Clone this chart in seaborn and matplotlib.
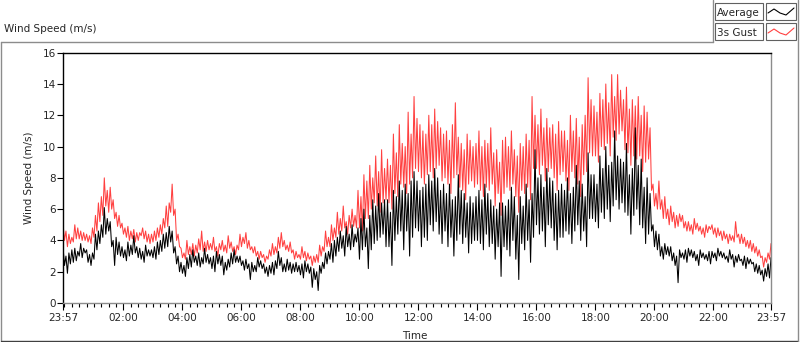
import numpy as np
import pandas as pd
import matplotlib
matplotlib.use("Agg")
import matplotlib.pyplot as plt
from matplotlib.lines import Line2D
from matplotlib.patches import Rectangle
import seaborn as sns

# ── Data (3-minute samples, 23:57 -> 23:57, one row per hour)
AVERAGE = [
    3.6, 2.4, 3.0, 1.9, 3.2, 2.5, 3.4, 2.6, 3.5, 2.7, 3.3, 3.0, 3.8, 2.9, 3.5, 3.2, 3.4, 2.6, 3.1, 2.4,
    3.2, 2.8, 4.4, 3.4, 4.6, 3.8, 5.0, 4.2, 6.1, 4.4, 5.4, 4.6, 5.2, 3.6, 4.0, 2.4, 4.2, 3.1, 3.9, 3.0,
    3.6, 2.9, 3.4, 2.7, 3.9, 3.0, 3.7, 3.1, 4.3, 3.2, 3.6, 2.9, 3.5, 2.8, 3.3, 2.6, 3.7, 3.0, 3.4, 3.0,
    3.4, 2.9, 3.6, 2.8, 3.9, 3.1, 4.0, 3.3, 4.4, 3.5, 4.5, 3.6, 4.9, 3.9, 4.6, 3.2, 3.6, 2.5, 3.0, 2.0,
    2.6, 1.9, 2.4, 1.7, 2.9, 2.2, 3.1, 2.3, 3.4, 2.6, 3.0, 2.4, 3.2, 2.3, 2.9, 2.5, 3.5, 2.6, 3.1, 2.5,
    2.9, 2.2, 3.0, 2.0, 3.3, 2.5, 3.1, 2.4, 3.0, 1.8, 2.6, 2.1, 2.8, 2.3, 3.2, 2.5, 3.4, 2.6, 3.0, 2.6,
    3.0, 2.4, 2.7, 2.1, 2.8, 2.2, 2.5, 1.5, 2.6, 2.0, 2.4, 2.0, 2.9, 2.3, 2.7, 2.2, 2.5, 1.9, 2.3, 1.7,
    2.4, 1.9, 2.6, 1.8, 2.7, 2.2, 3.3, 2.4, 2.9, 2.0, 2.5, 2.0, 2.8, 2.1, 2.6, 1.9, 2.5, 2.0, 2.6, 2.0,
    2.4, 1.8, 2.5, 1.6, 2.7, 2.0, 2.5, 1.9, 2.3, 1.0, 2.2, 1.5, 2.0, 0.8, 2.4, 1.9, 2.6, 2.2, 3.2, 2.5,
    3.3, 2.8, 3.8, 2.6, 4.0, 3.0, 4.2, 3.3, 4.6, 3.5, 4.3, 3.0, 4.9, 3.6, 4.4, 3.4, 5.0, 3.6, 4.4, 3.9,
    4.8, 2.8, 5.4, 3.4, 6.0, 3.6, 4.8, 2.2, 5.6, 3.4, 6.6, 3.8, 6.2, 4.0, 7.0, 4.2, 6.4, 4.4, 6.6, 3.6,
    6.6, 3.6, 5.8, 2.4, 7.2, 4.0, 6.8, 4.4, 7.8, 4.6, 7.2, 3.4, 7.6, 4.6, 7.0, 3.0, 7.8, 4.2, 8.4, 4.8,
    7.8, 4.6, 7.2, 3.6, 7.4, 4.2, 7.6, 4.0, 8.2, 5.0, 7.8, 4.6, 8.6, 5.2, 8.0, 4.4, 7.2, 3.8, 7.6, 4.6,
    7.0, 3.6, 7.6, 4.2, 6.6, 3.0, 6.8, 4.0, 8.2, 4.4, 7.2, 3.8, 7.0, 4.2, 6.4, 3.2, 6.8, 3.8, 6.4, 4.0,
    6.8, 4.0, 7.2, 3.8, 6.6, 3.4, 7.6, 4.4, 7.0, 3.6, 6.6, 3.8, 6.2, 2.8, 6.0, 3.6, 6.4, 1.7, 6.4, 3.6,
    6.2, 3.4, 6.6, 3.0, 7.4, 4.0, 6.8, 2.8, 5.6, 1.5, 6.8, 3.8, 6.2, 3.4, 7.6, 4.0, 6.6, 2.6, 7.0, 4.2,
    9.8, 5.0, 8.0, 4.4, 8.2, 4.6, 7.4, 3.6, 8.6, 5.0, 8.0, 4.8, 7.8, 4.0, 7.0, 3.4, 7.2, 4.2, 7.6, 4.2,
    7.2, 4.6, 8.0, 4.4, 7.0, 3.8, 7.4, 4.6, 8.8, 5.0, 7.8, 4.0, 7.6, 4.6, 6.8, 3.6, 9.6, 5.4, 8.2, 5.4,
    8.2, 5.2, 7.6, 4.8, 9.4, 5.8, 8.6, 5.4, 10.0, 6.0, 8.8, 5.2, 9.0, 6.2, 11.0, 6.6, 9.4, 6.0, 9.2, 6.4,
    9.0, 5.8, 10.2, 5.6, 8.2, 4.4, 8.6, 5.6, 11.2, 6.0, 8.8, 5.0, 9.2, 4.8, 7.4, 3.8, 8.0, 4.4, 7.0, 4.6,
    5.0, 3.6, 4.6, 3.4, 4.4, 3.0, 3.6, 2.8, 3.8, 3.1, 3.6, 3.0, 3.6, 2.7, 3.2, 2.4, 3.0, 1.3, 3.4, 2.9,
    3.2, 2.8, 3.4, 2.6, 3.5, 3.0, 3.4, 2.9, 3.3, 2.7, 3.1, 2.4, 3.4, 2.9, 3.2, 2.8, 3.1, 2.7, 3.3, 2.5,
    3.3, 2.9, 3.2, 2.7, 3.5, 3.0, 3.3, 2.9, 3.2, 2.8, 3.0, 2.6, 3.4, 2.8, 3.1, 2.3, 3.0, 2.6, 3.1, 2.7,
    2.8, 2.4, 3.0, 2.2, 2.9, 2.5, 2.8, 2.5, 2.6, 2.0, 2.5, 1.9, 2.4, 1.8, 2.1, 1.4, 2.2, 1.7, 2.5, 1.6,
    2.9,
]
GUST = [
    5.1, 4.0, 4.6, 3.6, 4.4, 3.8, 4.2, 3.9, 5.0, 4.1, 4.8, 4.1, 4.6, 4.0, 4.5, 4.0, 4.4, 3.9, 4.3, 3.8,
    4.8, 4.2, 5.6, 4.6, 6.4, 5.2, 6.8, 5.6, 8.0, 6.2, 7.2, 5.8, 7.4, 6.0, 6.6, 5.4, 5.8, 4.9, 5.6, 4.8,
    5.1, 4.4, 4.8, 4.2, 4.9, 4.0, 4.6, 4.1, 4.7, 3.9, 4.5, 4.0, 4.5, 4.3, 4.8, 4.1, 4.6, 3.9, 4.4, 3.8,
    4.4, 3.9, 4.6, 4.0, 4.8, 4.2, 5.0, 4.4, 5.4, 4.8, 6.2, 4.9, 6.4, 5.8, 7.6, 5.6, 6.0, 4.0, 4.4, 3.6,
    3.5, 2.9, 3.2, 2.8, 4.0, 3.1, 3.6, 3.1, 3.8, 3.0, 3.7, 3.2, 4.1, 3.4, 4.6, 3.3, 3.9, 3.3, 4.0, 3.4,
    3.8, 3.4, 4.2, 3.3, 3.6, 3.0, 3.8, 3.4, 4.0, 3.3, 3.7, 3.2, 4.3, 3.5, 3.9, 3.3, 3.6, 3.1, 3.7, 3.4,
    4.4, 3.6, 4.2, 3.8, 4.5, 3.5, 4.0, 3.4, 3.6, 3.2, 3.6, 3.0, 3.3, 2.8, 3.3, 2.9, 3.1, 2.6, 3.0, 2.8,
    3.4, 3.0, 3.8, 3.1, 3.6, 3.2, 4.2, 3.5, 4.5, 3.6, 4.0, 3.4, 3.7, 3.3, 3.9, 3.2, 3.4, 2.8, 3.3, 2.9,
    3.1, 2.8, 3.6, 2.9, 3.3, 2.7, 3.2, 2.8, 3.0, 2.4, 3.0, 2.6, 3.1, 2.6, 3.7, 3.0, 3.6, 3.3, 4.6, 3.6,
    4.2, 3.6, 5.0, 4.0, 4.8, 4.2, 5.8, 4.4, 5.4, 4.6, 6.2, 4.8, 5.2, 4.4, 5.6, 4.8, 6.0, 4.9, 5.6, 4.8,
    7.2, 4.8, 6.8, 4.6, 8.2, 5.4, 7.8, 5.4, 8.8, 6.0, 8.0, 6.4, 9.4, 6.2, 8.4, 5.8, 9.8, 6.4, 8.6, 6.6,
    9.2, 6.4, 8.8, 6.0, 10.8, 7.0, 9.6, 6.8, 11.4, 7.6, 10.2, 7.4, 10.0, 7.0, 12.2, 7.6, 10.8, 8.0, 13.2, 8.6,
    11.8, 8.4, 11.4, 8.0, 11.0, 7.6, 10.8, 8.2, 12.0, 8.4, 11.4, 8.0, 12.4, 8.6, 11.6, 8.8, 11.2, 7.8, 10.8, 8.0,
    11.0, 7.6, 10.4, 7.0, 11.4, 8.0, 12.8, 8.2, 10.6, 7.4, 10.2, 7.2, 9.8, 6.6, 10.8, 7.6, 10.4, 7.8, 10.0, 7.4,
    10.2, 7.6, 11.0, 7.2, 10.0, 6.8, 10.4, 7.4, 10.2, 7.2, 11.2, 7.6, 9.6, 6.2, 9.8, 7.0, 9.0, 5.6, 10.4, 7.0,
    10.6, 7.4, 10.0, 7.2, 11.0, 7.6, 9.8, 6.8, 9.4, 5.8, 10.2, 7.2, 10.0, 7.0, 10.8, 7.4, 10.4, 6.6, 13.2, 8.6,
    12.0, 8.6, 11.4, 8.2, 12.4, 8.8, 11.2, 7.8, 11.8, 8.4, 11.2, 8.6, 11.4, 8.0, 10.8, 7.2, 11.6, 8.2, 11.0, 8.4,
    11.0, 7.8, 10.4, 7.2, 12.0, 8.4, 11.0, 8.0, 11.8, 7.6, 10.6, 6.8, 11.4, 8.2, 12.0, 8.4, 14.4, 9.6, 13.0, 9.4,
    12.6, 9.4, 12.2, 9.0, 13.4, 10.0, 13.0, 9.8, 14.0, 10.2, 12.8, 9.4, 14.6, 10.6, 13.2, 10.4, 14.6, 10.8, 13.6, 11.0,
    13.0, 9.8, 13.8, 9.6, 12.4, 8.8, 13.0, 9.4, 12.6, 9.2, 13.2, 9.4, 12.0, 8.4, 12.6, 9.0, 12.2, 9.2, 11.2, 7.2,
    7.6, 6.2, 7.0, 6.0, 7.8, 6.0, 6.6, 5.4, 6.8, 5.4, 6.0, 5.0, 6.2, 5.2, 5.8, 4.8, 5.6, 4.9, 5.7, 5.2,
    5.6, 4.8, 5.2, 4.6, 5.2, 4.6, 5.0, 4.4, 5.4, 4.7, 5.1, 4.6, 4.9, 4.4, 4.8, 4.2, 5.0, 4.5, 4.9, 4.7,
    5.0, 4.4, 4.8, 4.2, 4.8, 4.3, 4.6, 4.0, 4.6, 4.1, 4.4, 3.8, 4.4, 4.0, 4.3, 3.9, 5.2, 4.2, 4.4, 3.8,
    4.4, 3.8, 4.2, 3.6, 4.0, 3.5, 4.0, 3.3, 3.8, 3.2, 3.6, 3.0, 3.4, 2.9, 3.0, 2.3, 2.9, 2.6, 3.2, 2.8,
    3.8,
]
SERIES = ["Average", "3s Gust"]
COLORS = {"Average": "#000000", "3s Gust": "#ff4040"}
START = "2024-01-01 23:57"
Y_TICKS = [0, 2, 4, 6, 8, 10, 12, 14, 16]

times = pd.date_range(START, periods=len(AVERAGE), freq="3min")
df = pd.DataFrame({"Time": np.tile(times, 2),
                   "Speed": AVERAGE + GUST,
                   "Series": np.repeat(SERIES, len(times))})

# ── Style ─────────────────────────────────────────────────────────────────────
sns.set_style("white")
plt.rcParams["font.family"] = ["DejaVu Sans"]
FS = 7.5

fig = plt.figure(figsize=(8.0, 3.42), dpi=100)
ax = fig.add_axes([63 / 800, 1 - 303 / 342, 708 / 800, (303 - 52.7) / 342])

sns.lineplot(data=df, x="Time", y="Speed", hue="Series", palette=COLORS,
             hue_order=["3s Gust", "Average"], linewidth=0.75, ax=ax,
             legend=False, estimator=None)

ax.set_xlim(times[0], times[-1])
ax.set_ylim(0, 16)
ax.set_yticks(Y_TICKS)
ax.set_yticklabels([str(v) for v in Y_TICKS], fontsize=FS)

major = [times[0]] + list(pd.date_range("2024-01-02 02:00", periods=11, freq="2h")) + [times[-1]]
ax.set_xticks(major)
ax.set_xticklabels([t.strftime("%H:%M") for t in major], fontsize=FS)
minor = pd.date_range("2024-01-02 00:00", "2024-01-02 23:45", freq="15min")
ax.set_xticks(minor, minor=True)

ax.tick_params(axis="x", which="major", direction="out", length=5, width=0.8,
               color="black", pad=2, bottom=True)
ax.tick_params(axis="x", which="minor", direction="out", length=3, width=0.8,
               color="black", bottom=True)
ax.tick_params(axis="y", which="major", direction="out", length=4, width=0.8,
               color="black", pad=1, left=True)

for side in ["top", "left"]:
    ax.spines[side].set_color("black")
    ax.spines[side].set_linewidth(1.0)
for side in ["bottom", "right"]:
    ax.spines[side].set_color("#8c8c8c")
    ax.spines[side].set_linewidth(1.0)
ax.grid(False)

ax.set_xlabel("Time", fontsize=FS, labelpad=1)
ax.set_ylabel("Wind Speed (m/s)", fontsize=FS, labelpad=6)
ax.xaxis.set_label_coords((415 - 63) / 708, -(331 - 303) / 250.3)

# ── Panel frame, title and legend ────────────────────────────────────────────
def px(x, y):
    return x / 800, 1 - y / 342

gray = "#8c8c8c"
for (x0, y0), (x1, y1) in [((1, 42), (713, 42)), ((1, 42), (1, 341)),
                           ((1, 340.5), (798, 340.5)), ((798, 0), (798, 341)),
                           ((713, 0), (713, 42))]:
    a, b = px(x0, y0)
    c, d = px(x1, y1)
    fig.add_artist(Line2D([a, c], [b, d], color=gray if y0 != 340.5 else "#404040",
                          lw=1.0, transform=fig.transFigure))

fig.text(*px(4, 32), "Wind Speed (m/s)", fontsize=FS, ha="left", va="baseline")

for row, name in enumerate(SERIES):
    top = 3 + row * 20
    for x0, w in [(715, 48), (766, 30)]:
        a, b = px(x0, top + 17)
        fig.add_artist(Rectangle((a, b), w / 800, 17 / 342, fill=False,
                                 edgecolor="#606060", lw=0.8, transform=fig.transFigure))
    fig.text(*px(717, top + 13.5), name, fontsize=FS, ha="left", va="baseline")
    zx = [768, 774, 780, 786, 794]
    zy = [top + 10, top + 6, top + 10, top + 12, top + 5]
    pts = [px(x, y) for x, y in zip(zx, zy)]
    fig.add_artist(Line2D([p[0] for p in pts], [p[1] for p in pts],
                          color=COLORS[name], lw=0.8, transform=fig.transFigure))

fig.savefig("out.png", dpi=100)
